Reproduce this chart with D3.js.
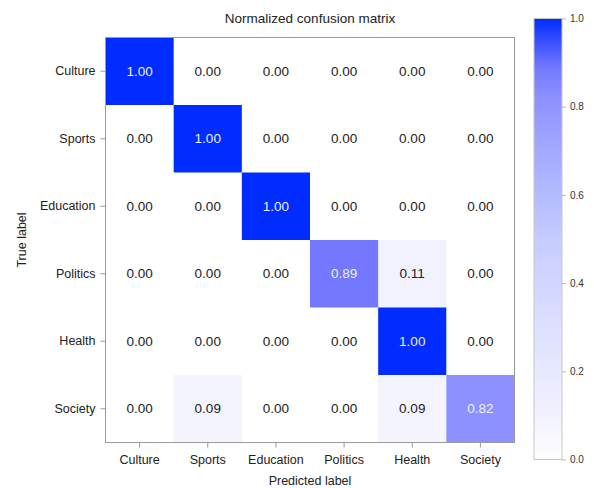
<!DOCTYPE html>
<html>
<head>
<meta charset="utf-8">
<script src="https://cdn.jsdelivr.net/npm/d3@7"></script>
<style>
  html, body { margin: 0; padding: 0; background: #fff; }
  svg { display: block; font-family: "Liberation Sans", Arial, Helvetica, sans-serif; }
</style>
</head>
<body>
<svg id="chart" width="594" height="488"></svg>
<script>
// Class labels (rows = true label, columns = predicted label)
const classes = ["Culture", "Sports", "Education", "Politics", "Health", "Society"];

// Normalized confusion matrix, one array per true class
const rowCulture   = [1.00, 0.00, 0.00, 0.00, 0.00, 0.00];
const rowSports    = [0.00, 1.00, 0.00, 0.00, 0.00, 0.00];
const rowEducation = [0.00, 0.00, 1.00, 0.00, 0.00, 0.00];
const rowPolitics  = [0.00, 0.00, 0.00, 0.89, 0.11, 0.00];
const rowHealth    = [0.00, 0.00, 0.00, 0.00, 1.00, 0.00];
const rowSociety   = [0.00, 0.09, 0.00, 0.00, 0.09, 0.82];
const matrix = [rowCulture, rowSports, rowEducation, rowPolitics, rowHealth, rowSociety];

// Colour bar ticks
const colorbarTicks = [0.0, 0.2, 0.4, 0.6, 0.8, 1.0];

const svg = d3.select("#chart");

const plotLeft = 105.5, plotTop = 37.5, plotRight = 514.5, plotBottom = 442.5;

const x = d3.scaleBand().domain(classes).range([plotLeft, plotRight]).paddingInner(0).paddingOuter(0);
const y = d3.scaleBand().domain(classes).range([plotTop, plotBottom]).paddingInner(0).paddingOuter(0);

// White-to-blue colour map
const color = d3.scaleLinear()
  .domain([0, 0.11, 0.3, 0.5, 0.72, 0.82, 0.89, 1.0])
  .range(["#ffffff", "#f1f1ff", "#dde0ff", "#c6ccff", "#9ea6ff", "#8c91ff", "#7378ff", "#002cff"])
  .interpolate(d3.interpolateRgb)
  .clamp(true);

const cells = [];
matrix.forEach((row, i) => row.forEach((v, j) => cells.push({ r: classes[i], c: classes[j], v })));

svg.append("g").selectAll("rect")
  .data(cells)
  .join("rect")
  .attr("x", d => x(d.c))
  .attr("y", d => y(d.r))
  .attr("width", x.bandwidth() + 0.5)
  .attr("height", y.bandwidth() + 0.5)
  .attr("fill", d => color(d.v));

svg.append("g").selectAll("text")
  .data(cells)
  .join("text")
  .attr("x", d => x(d.c) + x.bandwidth() / 2)
  .attr("y", d => y(d.r) + y.bandwidth() / 2)
  .attr("text-anchor", "middle")
  .attr("dominant-baseline", "central")
  .attr("font-size", 13.5)
  .attr("fill", d => d.v > 0.5 ? "#eef0ff" : "#222")
  .text(d => d.v.toFixed(2));

// Frame
svg.append("rect")
  .attr("x", plotLeft).attr("y", plotTop)
  .attr("width", plotRight - plotLeft).attr("height", plotBottom - plotTop)
  .attr("fill", "none").attr("stroke", "#9a9a9a").attr("stroke-width", 1);

// Axes
const xAxis = svg.append("g")
  .attr("transform", `translate(0,${plotBottom})`)
  .call(d3.axisBottom(x).tickSize(5).tickPadding(8));
const yAxis = svg.append("g")
  .attr("transform", `translate(${plotLeft},0)`)
  .call(d3.axisLeft(y).tickSize(5).tickPadding(5));
[xAxis, yAxis].forEach(g => {
  g.select(".domain").remove();
  g.selectAll(".tick line").attr("stroke", "#9a9a9a");
  g.selectAll(".tick text").attr("fill", "#222").attr("font-size", 12.5)
    .attr("font-family", "'Liberation Sans', Arial, sans-serif");
});

// Title and axis labels
svg.append("text")
  .attr("x", 310).attr("y", 23)
  .attr("text-anchor", "middle").attr("font-size", 13.5).attr("fill", "#222")
  .text("Normalized confusion matrix");

svg.append("text")
  .attr("x", 310).attr("y", 485)
  .attr("text-anchor", "middle").attr("font-size", 12.5).attr("fill", "#222")
  .text("Predicted label");

svg.append("text")
  .attr("transform", "translate(26,240) rotate(-90)")
  .attr("text-anchor", "middle").attr("font-size", 12.5).attr("fill", "#222")
  .text("True label");

// Colour bar
const cbLeft = 534, cbWidth = 28, cbTop = 18.5, cbBottom = 459.5;
const cbScale = d3.scaleLinear().domain([0, 1]).range([cbBottom, cbTop]);

const defs = svg.append("defs");
const grad = defs.append("linearGradient")
  .attr("id", "cbgrad")
  .attr("x1", "0").attr("y1", "1").attr("x2", "0").attr("y2", "0");
d3.range(0, 1.0001, 0.02).forEach(t => {
  grad.append("stop").attr("offset", t).attr("stop-color", color(t));
});

svg.append("rect")
  .attr("x", cbLeft).attr("y", cbTop)
  .attr("width", cbWidth).attr("height", cbBottom - cbTop)
  .attr("fill", "url(#cbgrad)")
  .attr("stroke", "#c8c8c8").attr("stroke-width", 1);

const cbAxis = svg.append("g")
  .attr("transform", `translate(${cbLeft + cbWidth},0)`)
  .call(d3.axisRight(cbScale).tickValues(colorbarTicks).tickFormat(d3.format(".1f")).tickSize(4).tickPadding(4));
cbAxis.select(".domain").remove();
cbAxis.selectAll(".tick line").attr("stroke", "#bbb");
cbAxis.selectAll(".tick text").attr("fill", "#333").attr("font-size", 10)
  .attr("font-family", "'Liberation Sans', Arial, sans-serif");
</script>
</body>
</html>
